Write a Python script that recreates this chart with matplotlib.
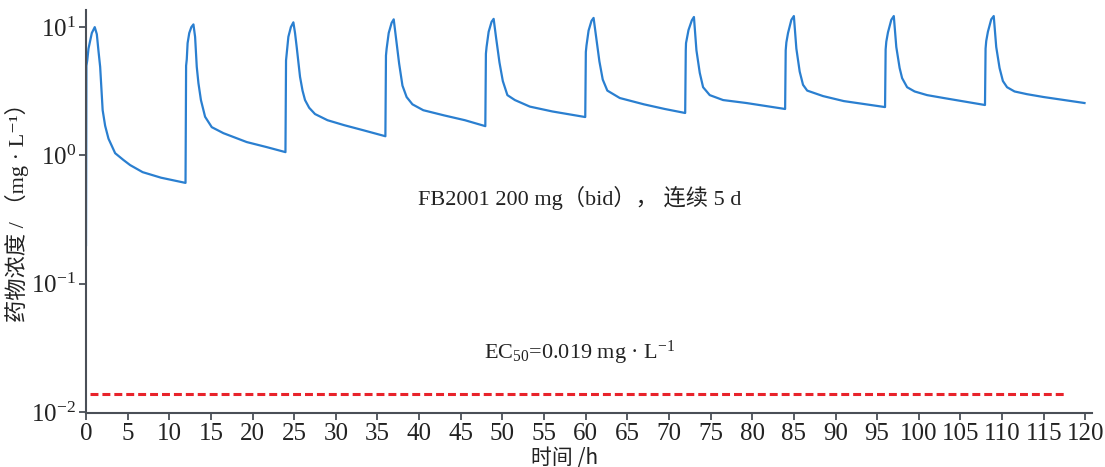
import matplotlib
matplotlib.use("Agg")
import matplotlib.pyplot as plt
from matplotlib.ticker import LogLocator, NullLocator

plt.rcParams['mathtext.fontset'] = 'custom'
plt.rcParams['mathtext.rm'] = 'Liberation Serif'
plt.rcParams['mathtext.it'] = 'Liberation Serif:italic'
plt.rcParams['font.family'] = ['Liberation Serif', 'Noto Sans CJK SC', 'DejaVu Sans']

# --- data (time in h, concentration in mg/L) ---
time_h = [
    0.0, 0.05, 0.15, 0.3, 0.7, 1.05, 1.3, 1.5, 1.7, 2.0, 2.3, 2.7, 3.5, 4.5, 5.3, 6.8, 9.0, 11.95,
    12.02, 12.1, 12.2, 12.4, 12.65, 12.9, 13.1, 13.3, 13.5, 13.8, 14.3, 15.1, 16.5, 19.3, 21.7, 23.95,
    24.02, 24.1, 24.3, 24.6, 24.9, 25.1, 25.3, 25.7, 26.0, 26.3, 26.8, 27.5, 29.0, 31.0, 33.3, 35.95,
    36.02, 36.1, 36.35, 36.7, 36.95, 37.25, 37.6, 38.0, 38.5, 39.2, 40.5, 43.0, 45.5, 47.95,
    48.02, 48.1, 48.35, 48.7, 48.95, 49.25, 49.65, 50.05, 50.6, 51.5, 53.3, 56.0, 59.95,
    60.02, 60.1, 60.35, 60.7, 60.95, 61.25, 61.65, 62.05, 62.6, 64.1, 67.0, 69.5, 71.95,
    72.02, 72.05, 72.35, 72.75, 73.0, 73.3, 73.7, 74.1, 74.9, 76.5, 79.3, 81.7, 83.95,
    84.02, 84.1, 84.3, 84.7, 85.0, 85.3, 85.7, 86.1, 86.6, 88.5, 91.0, 94.2, 95.95,
    96.02, 96.1, 96.3, 96.7, 97.0, 97.3, 97.7, 98.0, 98.6, 99.5, 101.0, 103.0, 105.5, 107.95,
    108.02, 108.1, 108.3, 108.7, 109.0, 109.3, 109.7, 110.1, 110.6, 111.5, 113.0, 115.0, 117.5, 119.9,
]
conc = [
    0.2, 5.0, 5.5, 6.8, 9.0, 10.0, 8.8, 6.5, 4.9, 2.25, 1.7, 1.35, 1.04, 0.92, 0.84, 0.74, 0.67, 0.61,
    5.0, 5.6, 7.5, 9.0, 10.0, 10.5, 8.4, 4.9, 3.66, 2.7, 2.0, 1.66, 1.49, 1.27, 1.16, 1.06,
    5.5, 6.2, 8.4, 10.0, 10.9, 9.0, 7.0, 4.1, 3.2, 2.7, 2.35, 2.1, 1.88, 1.72, 1.57, 1.41,
    6.0, 6.8, 9.0, 10.8, 11.5, 8.0, 5.2, 3.5, 2.85, 2.5, 2.25, 2.05, 1.88, 1.69,
    6.2, 7.0, 9.2, 11.0, 11.6, 8.2, 5.3, 3.8, 2.95, 2.7, 2.4, 2.2, 1.99,
    6.4, 7.2, 9.4, 11.2, 11.8, 8.4, 5.4, 3.9, 3.2, 2.8, 2.5, 2.3, 2.14,
    6.6, 7.5, 9.5, 11.3, 12.0, 6.6, 4.4, 3.4, 2.95, 2.7, 2.56, 2.42, 2.3,
    6.6, 7.6, 9.0, 11.4, 12.2, 6.8, 4.5, 3.55, 3.2, 2.9, 2.65, 2.47, 2.38,
    6.7, 7.7, 9.1, 11.4, 12.2, 7.0, 4.8, 4.0, 3.4, 3.15, 2.95, 2.8, 2.63, 2.47,
    6.8, 7.8, 9.2, 11.5, 12.2, 7.0, 4.8, 3.8, 3.4, 3.15, 3.0, 2.85, 2.7, 2.56,
]
ec_line_t = [0.5, 117.4]
ec_line_c = [0.0138, 0.0138]

xticks = list(range(0, 121, 5))
dose_label = "FB2001 200 mg（bid）， 连续 5 d"
ec_label = "EC$_{50}$=0.019 mg · L$^{-1}$"
ylabel = "药物浓度 / （mg · L⁻¹）"
xlabel = "时间 /h"

fig = plt.figure(figsize=(11.05, 4.67), dpi=100)
ax = fig.add_axes([86/1105, 1-413/467, (1092-86)/1105, (413-10)/467])

ax.plot(time_h, conc, color='#2a7fd0', lw=1.6, solid_joinstyle='round')
ax.plot(ec_line_t, ec_line_c, color='#e8232b', lw=2.2, dashes=(2.6, 1.3))

ax.set_yscale('log')
ax.set_xlim(0, 120.8)
ax.set_ylim(0.0098, 13.6)
ax.set_xticks(xticks)
ax.yaxis.set_major_locator(LogLocator(base=10, numticks=10))
ax.yaxis.set_minor_locator(NullLocator())

for s in ['top', 'right']:
    ax.spines[s].set_visible(False)
for s in ['left', 'bottom']:
    ax.spines[s].set_color('#4a4f57')
    ax.spines[s].set_linewidth(1.5)
ax.tick_params(axis='both', direction='out', length=5, width=1.3, color='#4a4f57',
               labelsize=18, labelcolor='#222222', pad=2)

ax.set_ylabel(ylabel, fontsize=16, family=['Liberation Serif', 'Noto Sans CJK SC', 'DejaVu Sans'],
              color='#222222')
ax.yaxis.set_label_coords(-0.057, 0.51)
ax.set_xlabel(xlabel, fontsize=15, family=['Noto Sans CJK SC', 'DejaVu Sans'], color='#222222',
              va='center')
ax.xaxis.set_label_coords(0.476, -0.112)

ax.text(59.3, 0.464, dose_label, ha='center', va='center', fontsize=16, color='#222222',
        family=['Liberation Serif', 'Noto Sans CJK SC'])
ax.text(59.3, 0.0288, ec_label, ha='center', va='center', fontsize=16, color='#222222',
        family=['Liberation Serif', 'Noto Sans CJK SC'])

fig.savefig('out.png', dpi=100)
